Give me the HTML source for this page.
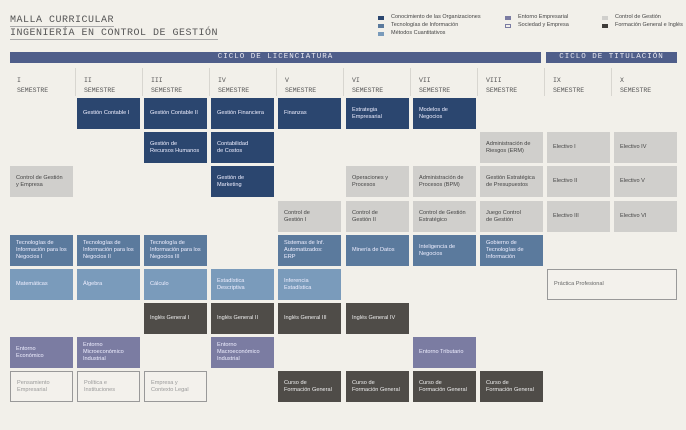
<!DOCTYPE html>
<html><head><meta charset="utf-8"><style>
body{margin:0;background:#f2f0ea;}
#c{position:relative;width:686px;height:430px;overflow:hidden;background:#f2f0ea;font-family:"Liberation Sans",sans-serif;}
.t{position:absolute;font-family:"Liberation Mono",monospace;font-size:10px;color:#555;letter-spacing:0.5px;border-bottom:1.5px solid #aaa;line-height:11px}
.b{position:absolute;box-sizing:border-box;width:63px;height:31px;font-size:5.6px;line-height:7px;padding:0 6px;display:flex;align-items:center;color:#eef;}
.n{background:#2b466f;}
.ti{background:#5b7a9d;}
.m{background:#7a9bbb;}
.g{background:#d0cfcc;color:#444;}
.d{background:#4f4c48;color:#eee;}
.p{background:#7b7ca2;}
.s{background:#f3f1ec;border:1px solid #999;color:#999;}
.h{position:absolute;font-family:"Liberation Mono",monospace;font-size:6.5px;color:#555;line-height:10px;}
.v{position:absolute;width:1px;height:28px;top:68px;background:#d8d6d0;}
.ban{position:absolute;top:52px;height:11px;background:#4f5e8a;color:#e8e8f0;font-family:"Liberation Mono",monospace;font-size:7.5px;line-height:11px;text-align:center;letter-spacing:1px}
.lg{position:absolute;font-size:5.5px;color:#444;line-height:8px}
.sq{position:absolute;width:6px;height:4px}
</style></head><body><div id="c">
<div class="t" style="left:10px;top:15px">MALLA CURRICULAR</div>
<div class="t" style="left:10px;top:28px">INGENIERÍA EN CONTROL DE GESTIÓN</div>

<div class="sq" style="left:378px;top:16px;background:#2b466f"></div><div class="lg" style="left:391px;top:13px">Conocimiento de las Organizaciones</div>
<div class="sq" style="left:378px;top:24px;background:#5b7a9d"></div><div class="lg" style="left:391px;top:21px">Tecnologías de Información</div>
<div class="sq" style="left:378px;top:32px;background:#7a9bbb"></div><div class="lg" style="left:391px;top:29px">Métodos Cuantitativos</div>
<div class="sq" style="left:505px;top:16px;background:#7b7ca2"></div><div class="lg" style="left:518px;top:13px">Entorno Empresarial</div>
<div class="sq" style="left:505px;top:24px;border:1px solid #7b7ca2;width:4px;height:2px"></div><div class="lg" style="left:518px;top:21px">Sociedad y Empresa</div>
<div class="sq" style="left:602px;top:16px;background:#d0cfcc"></div><div class="lg" style="left:615px;top:13px">Control de Gestión</div>
<div class="sq" style="left:602px;top:24px;background:#3f3d3a"></div><div class="lg" style="left:615px;top:21px">Formación General e Inglés</div>

<div class="ban" style="left:10px;width:531px">CICLO DE LICENCIATURA</div>
<div class="ban" style="left:546px;width:131px">CICLO DE TITULACIÓN</div>

<div class="h" style="left:17px;top:76px">I<br>SEMESTRE</div>
<div class="v" style="left:75px"></div><div class="h" style="left:84px;top:76px">II<br>SEMESTRE</div>
<div class="v" style="left:142px"></div><div class="h" style="left:151px;top:76px">III<br>SEMESTRE</div>
<div class="v" style="left:209px"></div><div class="h" style="left:218px;top:76px">IV<br>SEMESTRE</div>
<div class="v" style="left:276px"></div><div class="h" style="left:285px;top:76px">V<br>SEMESTRE</div>
<div class="v" style="left:343px"></div><div class="h" style="left:352px;top:76px">VI<br>SEMESTRE</div>
<div class="v" style="left:410px"></div><div class="h" style="left:419px;top:76px">VII<br>SEMESTRE</div>
<div class="v" style="left:477px"></div><div class="h" style="left:486px;top:76px">VIII<br>SEMESTRE</div>
<div class="v" style="left:544px"></div><div class="h" style="left:553px;top:76px">IX<br>SEMESTRE</div>
<div class="v" style="left:611px"></div><div class="h" style="left:620px;top:76px">X<br>SEMESTRE</div>

<div class="b n" style="left:77px;top:98px">Gestión Contable I</div>
<div class="b n" style="left:144px;top:98px">Gestión Contable II</div>
<div class="b n" style="left:211px;top:98px">Gestión Financiera</div>
<div class="b n" style="left:278px;top:98px">Finanzas</div>
<div class="b n" style="left:346px;top:98px">Estrategia<br>Empresarial</div>
<div class="b n" style="left:413px;top:98px">Modelos de<br>Negocios</div>

<div class="b n" style="left:144px;top:132px">Gestión de<br>Recursos Humanos</div>
<div class="b n" style="left:211px;top:132px">Contabilidad<br>de Costos</div>
<div class="b g" style="left:480px;top:132px">Administración de Riesgos (ERM)</div>
<div class="b g" style="left:547px;top:132px">Electivo I</div>
<div class="b g" style="left:614px;top:132px">Electivo IV</div>

<div class="b g" style="left:10px;top:166px">Control de Gestión<br>y Empresa</div>
<div class="b n" style="left:211px;top:166px">Gestión de<br>Marketing</div>
<div class="b g" style="left:346px;top:166px">Operaciones y<br>Procesos</div>
<div class="b g" style="left:413px;top:166px">Administración de Procesos (BPM)</div>
<div class="b g" style="left:480px;top:166px">Gestión Estratégica de Presupuestos</div>
<div class="b g" style="left:547px;top:166px">Electivo II</div>
<div class="b g" style="left:614px;top:166px">Electivo V</div>

<div class="b g" style="left:278px;top:201px">Control de<br>Gestión I</div>
<div class="b g" style="left:346px;top:201px">Control de<br>Gestión II</div>
<div class="b g" style="left:413px;top:201px">Control de Gestión Estratégico</div>
<div class="b g" style="left:480px;top:201px">Juego Control<br>de Gestión</div>
<div class="b g" style="left:547px;top:201px">Electivo III</div>
<div class="b g" style="left:614px;top:201px">Electivo VI</div>

<div class="b ti" style="left:10px;top:235px">Tecnologías de Información para los Negocios I</div>
<div class="b ti" style="left:77px;top:235px">Tecnologías de Información para los Negocios II</div>
<div class="b ti" style="left:144px;top:235px">Tecnología de Información para los Negocios III</div>
<div class="b ti" style="left:278px;top:235px">Sistemas de Inf. Automatizados: ERP</div>
<div class="b ti" style="left:346px;top:235px">Minería de Datos</div>
<div class="b ti" style="left:413px;top:235px">Inteligencia de<br>Negocios</div>
<div class="b ti" style="left:480px;top:235px">Gobierno de Tecnologías de Información</div>

<div class="b m" style="left:10px;top:269px">Matemáticas</div>
<div class="b m" style="left:77px;top:269px">Álgebra</div>
<div class="b m" style="left:144px;top:269px">Cálculo</div>
<div class="b m" style="left:211px;top:269px">Estadística<br>Descriptiva</div>
<div class="b m" style="left:278px;top:269px">Inferencia<br>Estadística</div>
<div class="b s" style="left:547px;top:269px;width:130px;color:#666">Práctica Profesional</div>

<div class="b d" style="left:144px;top:303px">Inglés General I</div>
<div class="b d" style="left:211px;top:303px">Inglés General II</div>
<div class="b d" style="left:278px;top:303px">Inglés General III</div>
<div class="b d" style="left:346px;top:303px">Inglés General IV</div>

<div class="b p" style="left:10px;top:337px">Entorno<br>Económico</div>
<div class="b p" style="left:77px;top:337px">Entorno Microeconómico Industrial</div>
<div class="b p" style="left:211px;top:337px">Entorno Macroeconómico Industrial</div>
<div class="b p" style="left:413px;top:337px">Entorno Tributario</div>

<div class="b s" style="left:10px;top:371px">Pensamiento<br>Empresarial</div>
<div class="b s" style="left:77px;top:371px">Política e<br>Instituciones</div>
<div class="b s" style="left:144px;top:371px">Empresa y<br>Contexto Legal</div>
<div class="b d" style="left:278px;top:371px">Curso de<br>Formación General</div>
<div class="b d" style="left:346px;top:371px">Curso de<br>Formación General</div>
<div class="b d" style="left:413px;top:371px">Curso de<br>Formación General</div>
<div class="b d" style="left:480px;top:371px">Curso de<br>Formación General</div>
</div></body></html>
